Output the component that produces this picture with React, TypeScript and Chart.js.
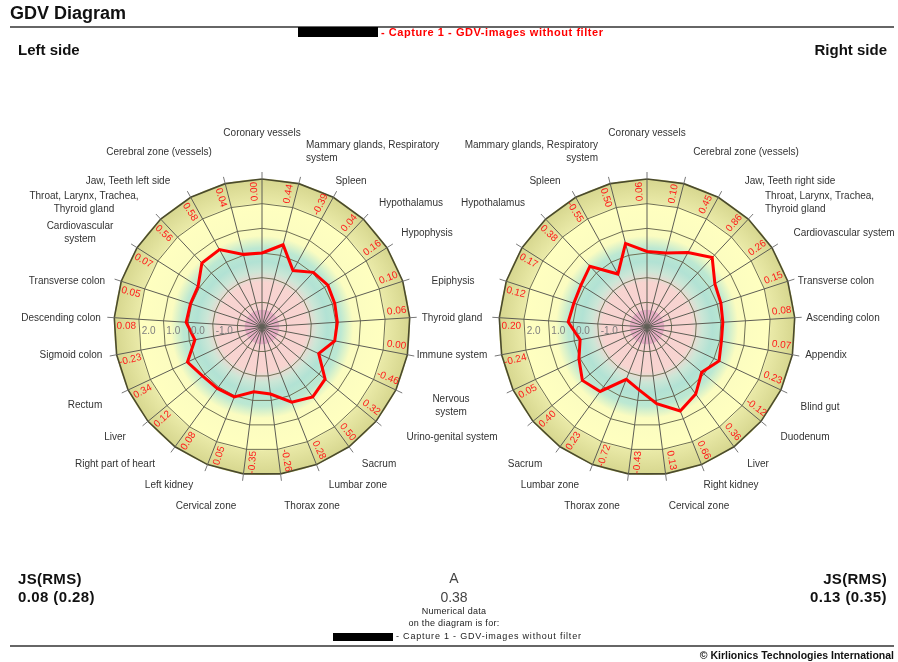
import React, { useEffect, useRef } from "react";
import { Chart, registerables } from "chart.js";
Chart.register(...registerables);

// ---------- data ----------
const leftLabels = [
  "Coronary vessels", "Mammary glands, Respiratory\nsystem", "Spleen", "Hypothalamus", "Hypophysis",
  "Epiphysis", "Thyroid gland", "Immune system", "Nervous\nsystem", "Urino-genital system",
  "Sacrum", "Lumbar zone", "Thorax zone", "Cervical zone", "Left kidney",
  "Right part of heart", "Liver", "Rectum", "Sigmoid colon", "Descending colon",
  "Transverse colon", "Cardiovascular\nsystem", "Throat, Larynx, Trachea,\nThyroid gland", "Jaw, Teeth left side", "Cerebral zone (vessels)",
];
const leftValues = [
  0.0, 0.44, -0.39, 0.04, 0.16, 0.1, 0.06, 0.0, -0.46, 0.32, 0.5, 0.28, -0.26,
  -0.35, 0.05, 0.08, 0.12, 0.34, -0.23, 0.08, 0.05, 0.07, 0.56, 0.58, 0.04,
];

const rightLabels = [
  "Coronary vessels", "Cerebral zone (vessels)", "Jaw, Teeth right side", "Throat, Larynx, Trachea,\nThyroid gland", "Cardiovascular system",
  "Transverse colon", "Ascending colon", "Appendix", "Blind gut", "Duodenum",
  "Liver", "Right kidney", "Cervical zone", "Thorax zone", "Lumbar zone",
  "Sacrum", "Urino-genital system", "Nervous\nsystem", "Immune system", "Thyroid gland",
  "Epiphysis", "Hypophysis", "Hypothalamus", "Spleen", "Mammary glands, Respiratory\nsystem",
];
const rightValues = [
  0.06, 0.1, 0.45, 0.86, 0.26, 0.15, 0.08, 0.07, 0.23, -0.12, 0.36, 0.66, 0.13,
  -0.43, -0.72, 0.23, 0.4, 0.05, -0.24, 0.2, 0.12, 0.17, 0.38, -0.55, 0.5,
];

const scaleTickLabels = [2, 1, 0, -1];

// ---------- layout of the organ names (offset from chart centre, alignment) ----------
type Place = [number, number, CanvasTextAlign] | null;
const leftPlacement: Place[] = [
  [0, -194, "center"], [44, -175, "left"], [89, -146, "center"], [149, -124, "center"], [165, -94, "center"],
  [191, -46, "center"], [190, -9, "center"], [190, 28, "center"], [189, 79, "center"], [190, 110, "center"],
  [117, 137, "center"], [96, 158, "center"], [50, 179, "center"], [-56, 179, "center"], [-93, 158, "center"],
  [-147, 137, "center"], [-147, 110, "center"], [-177, 78, "center"], [-191, 28, "center"], [-201, -9, "center"],
  [-195, -46, "center"], [-182, -94, "center"], [-178, -124, "center"], [-134, -146, "center"], [-103, -175, "center"],
];
const rightPlacement: Place[] = [
  [0, -194, "center"], [99, -175, "center"], [143, -146, "center"], [118, -124, "left"], [197, -94, "center"],
  [189, -46, "center"], [196, -9, "center"], [179, 28, "center"], [173, 80, "center"], [158, 110, "center"],
  [111, 137, "center"], [84, 158, "center"], [52, 179, "center"], [-55, 179, "center"], [-97, 158, "center"],
  [-122, 137, "center"], null, null, null, null,
  null, null, [-154, -124, "center"], [-102, -146, "center"], [-49, -175, "right"],
];

const FONT = '"Liberation Sans", Arial, sans-serif';

const gdvPlugin = {
  id: "gdv",
  beforeDraw(chart: any) {
    const s = chart.scales.r;
    const ctx: CanvasRenderingContext2D = chart.ctx;
    const cx = s.xCenter, cy = s.yCenter, R = s.drawingArea;
    const rIn = s.getDistanceFromCenterForValue(2);
    ctx.save();
    const g1 = ctx.createRadialGradient(cx, cy, rIn, cx, cy, R);
    g1.addColorStop(0, "#eaeaa8");
    g1.addColorStop(1, "#d6d68e");
    ctx.beginPath();
    ctx.arc(cx, cy, R, 0, Math.PI * 2);
    ctx.fillStyle = g1;
    ctx.fill();
    const g2 = ctx.createRadialGradient(cx, cy, 0, cx, cy, rIn);
    g2.addColorStop(0, "#f6d0d2");
    g2.addColorStop(0.36, "#f8d4d0");
    g2.addColorStop(0.45, "#cce6d6");
    g2.addColorStop(0.53, "#b2e2d4");
    g2.addColorStop(0.64, "#bce8d2");
    g2.addColorStop(0.74, "#fbfcc0");
    g2.addColorStop(1, "#ffffc0");
    ctx.beginPath();
    ctx.arc(cx, cy, rIn, 0, Math.PI * 2);
    ctx.fillStyle = g2;
    ctx.fill();
    const rc = s.getDistanceFromCenterForValue(-2.3);
    ctx.beginPath();
    ctx.arc(cx, cy, rc, 0, Math.PI * 2);
    ctx.fillStyle = "#e8aec6";
    ctx.fill();
    ctx.restore();
  },
  afterDraw(chart: any, _args: any, opts: any) {
    const s = chart.scales.r;
    const ctx: CanvasRenderingContext2D = chart.ctx;
    const cx = s.xCenter, cy = s.yCenter, R = s.drawingArea;
    const rIn = s.getDistanceFromCenterForValue(2);
    const values: number[] = chart.data.datasets[0].data;
    const labels: string[] = chart.data.labels;
    const place: Place[] = opts.placement;
    const n = values.length;
    ctx.save();
    // tick marks outside the circle
    ctx.strokeStyle = "#777";
    ctx.lineWidth = 1;
    for (let i = 0; i < n; i++) {
      const a = ((i * 360) / n - 90) * (Math.PI / 180);
      ctx.beginPath();
      ctx.moveTo(cx + R * Math.cos(a), cy + R * Math.sin(a));
      ctx.lineTo(cx + (R + 7) * Math.cos(a), cy + (R + 7) * Math.sin(a));
      ctx.stroke();
    }
    // values in the outer band
    ctx.font = `10px ${FONT}`;
    ctx.fillStyle = "#ff1a1a";
    ctx.textAlign = "center";
    ctx.textBaseline = "middle";
    const rm = (rIn + R) / 2;
    values.forEach((v, i) => {
      const th = (i * 360) / n - 3.2;
      const a = (th - 90) * (Math.PI / 180);
      const x = cx + rm * Math.cos(a), y = cy + rm * Math.sin(a);
      const t = ((th % 360) + 360) % 360;
      const rot = t < 180 || t > 355 ? th - 90 : th + 90;
      ctx.save();
      ctx.translate(x, y);
      ctx.rotate((rot * Math.PI) / 180);
      ctx.fillText(v.toFixed(2), 0, 0);
      ctx.restore();
    });
    // scale labels along the left horizontal
    ctx.fillStyle = "#7e7e7e";
    ctx.textAlign = "left";
    scaleTickLabels.forEach((v) => {
      const r = s.getDistanceFromCenterForValue(v);
      ctx.fillText(v.toFixed(1), cx - r + 3, cy + 4);
    });
    // organ names
    ctx.fillStyle = "#333";
    ctx.font = `10px ${FONT}`;
    labels.forEach((lab, i) => {
      const p = place[i];
      if (!p) return;
      const lines = lab.split("\n");
      ctx.textAlign = p[2];
      const y0 = cy + p[1] - ((lines.length - 1) * 13) / 2;
      lines.forEach((ln, k) => ctx.fillText(ln, cx + p[0], y0 + k * 13));
    });
    ctx.restore();
  },
};

function makeChart(canvas: HTMLCanvasElement, labels: string[], values: number[], placement: Place[], padding: any) {
  return new Chart(canvas, {
    type: "radar",
    data: {
      labels,
      datasets: [
        {
          data: values,
          borderColor: "#ff0000",
          borderWidth: 3,
          pointRadius: 0,
          fill: false,
          tension: 0,
          borderJoinStyle: "miter",
        } as any,
      ],
    },
    options: {
      responsive: false,
      animation: false,
      devicePixelRatio: 1,
      events: [],
      layout: { padding },
      plugins: {
        legend: { display: false },
        tooltip: { enabled: false },
        title: { display: false },
        gdv: { placement },
      } as any,
      scales: {
        r: {
          min: -3,
          max: 3,
          ticks: { display: false, stepSize: 1 },
          pointLabels: { display: false },
          grid: {
            color: (c: any) => (c.tick && c.tick.value === 3 ? "#4a4a2c" : "#707055"),
            lineWidth: (c: any) => (c.tick && c.tick.value === 3 ? 1.6 : 1),
          },
          angleLines: { color: "#5e5e55", lineWidth: 1 },
        },
      },
    } as any,
    plugins: [gdvPlugin as any],
  });
}

const txt = (extra: React.CSSProperties): React.CSSProperties => ({
  position: "absolute",
  whiteSpace: "nowrap",
  fontFamily: FONT,
  ...extra,
});

export default function App() {
  const leftRef = useRef<HTMLCanvasElement>(null);
  const rightRef = useRef<HTMLCanvasElement>(null);
  useEffect(() => {
    const a = makeChart(leftRef.current!, leftLabels, leftValues, leftPlacement, { left: 114, top: 179, right: 488, bottom: 187 });
    const b = makeChart(rightRef.current!, rightLabels, rightValues, rightPlacement, { left: 499, top: 179, right: 103, bottom: 187 });
    return () => {
      a.destroy();
      b.destroy();
    };
  }, []);

  return (
    <div style={{ position: "absolute", left: 0, top: 0, width: 898, height: 662, background: "#fff", overflow: "hidden", fontFamily: FONT }}>
      <canvas ref={leftRef} width={898} height={662} style={{ position: "absolute", left: 0, top: 0 }} />
      <canvas ref={rightRef} width={898} height={662} style={{ position: "absolute", left: 0, top: 0 }} />

      <div style={txt({ left: 10, top: 4, fontSize: 18, fontWeight: "bold", lineHeight: "18px", color: "#111" })}>GDV Diagram</div>
      <div style={{ position: "absolute", left: 10, top: 26, width: 884, height: 2, background: "#666" }} />
      <div style={{ position: "absolute", left: 298, top: 27, width: 80, height: 10, background: "#000" }} />
      <div style={txt({ left: 381, top: 27, fontSize: 11, letterSpacing: "0.55px", fontWeight: "bold", lineHeight: "10px", color: "#ff0000" })}>- Capture 1 - GDV-images without filter</div>

      <div style={txt({ left: 18, top: 42, fontSize: 15, fontWeight: "bold", lineHeight: "15px", color: "#111" })}>Left side</div>
      <div style={txt({ right: 11, top: 42, fontSize: 15, fontWeight: "bold", lineHeight: "15px", color: "#111" })}>Right side</div>

      <div style={txt({ left: 18, top: 571, fontSize: 15, letterSpacing: "0.3px", fontWeight: "bold", lineHeight: "15px", color: "#111" })}>JS(RMS)</div>
      <div style={txt({ left: 18, top: 589, fontSize: 15, letterSpacing: "0.4px", fontWeight: "bold", lineHeight: "15px", color: "#111" })}>0.08 (0.28)</div>
      <div style={txt({ right: 11, top: 571, fontSize: 15, letterSpacing: "0.3px", fontWeight: "bold", lineHeight: "15px", color: "#111", textAlign: "right" })}>JS(RMS)</div>
      <div style={txt({ right: 11, top: 589, fontSize: 15, letterSpacing: "0.4px", fontWeight: "bold", lineHeight: "15px", color: "#111", textAlign: "right" })}>0.13 (0.35)</div>

      <div style={txt({ left: 354, width: 200, top: 571, fontSize: 14, lineHeight: "14px", color: "#444", textAlign: "center" })}>A</div>
      <div style={txt({ left: 354, width: 200, top: 590, fontSize: 14, lineHeight: "14px", color: "#444", textAlign: "center" })}>0.38</div>
      <div style={txt({ left: 354, width: 200, top: 607, fontSize: 9, letterSpacing: "0.3px", lineHeight: "9px", color: "#222", textAlign: "center" })}>Numerical data</div>
      <div style={txt({ left: 354, width: 200, top: 619, fontSize: 9, letterSpacing: "0.3px", lineHeight: "9px", color: "#222", textAlign: "center" })}>on the diagram is for:</div>
      <div style={{ position: "absolute", left: 333, top: 633, width: 60, height: 8, background: "#000" }} />
      <div style={txt({ left: 396, top: 632, fontSize: 9, letterSpacing: "0.8px", lineHeight: "9px", color: "#222" })}>- Capture 1 - GDV-images without filter</div>

      <div style={{ position: "absolute", left: 10, top: 645, width: 884, height: 2, background: "#666" }} />
      <div style={txt({ right: 4, top: 650, fontSize: 10.5, fontWeight: "bold", lineHeight: "10px", color: "#111", textAlign: "right" })}>© Kirlionics Technologies International</div>
    </div>
  );
}
